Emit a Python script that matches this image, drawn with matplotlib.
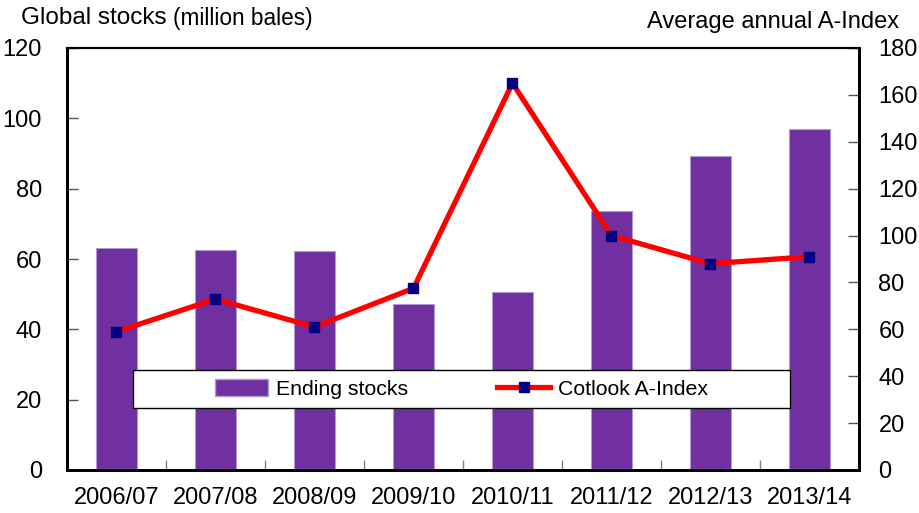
import matplotlib
matplotlib.use("Agg")
import matplotlib.pyplot as plt
from matplotlib.patches import Rectangle
from matplotlib.lines import Line2D
from matplotlib.patches import Patch
import numpy as np

plt.rcParams['font.family'] = ['Liberation Sans', 'DejaVu Sans']

seasons = ["2006/07", "2007/08", "2008/09", "2009/10", "2010/11", "2011/12", "2012/13", "2013/14"]
ending_stocks = [63.2, 62.5, 62.2, 47.3, 50.5, 73.6, 89.4, 97.0]
a_index = [59.0, 72.9, 61.0, 77.5, 165.0, 100.0, 88.0, 91.0]
left_ticks = [0, 20, 40, 60, 80, 100, 120]
right_ticks = [0, 20, 40, 60, 80, 100, 120, 140, 160, 180]

W, H = 920, 513
fig = plt.figure(figsize=(W / 100, H / 100), dpi=100)
L, R, B, T = 67, 859, 470, 48
ax = fig.add_axes([L / W, 1 - B / H, (R - L) / W, (B - T) / H])
ax2 = ax.twinx()

x = np.arange(len(seasons))
ax.bar(x, ending_stocks, width=0.42, color='#7030A0', edgecolor='#b09ad0', linewidth=0.8, zorder=2)
ax.set_xlim(-0.5, len(seasons) - 0.5)
ax.set_ylim(0, 120)
ax.set_yticks(left_ticks)
ax.set_xticks(x)
ax.set_xticklabels(seasons)
ax.set_xticks(np.arange(0.5, len(seasons) - 0.5, 1), minor=True)
ax.tick_params(axis='x', which='major', length=0, pad=12, labelsize=17)
ax.tick_params(axis='x', which='minor', length=7, direction='in', color='#808080', width=1)
ax.tick_params(axis='y', direction='in', length=8, color='#555555', width=1, labelsize=17, pad=18)

ax2.plot(x, a_index, color='#FF0000', linewidth=3.8, marker='s', markersize=7,
         markerfacecolor='#000080', markeredgecolor='#000080', zorder=3)
ax2.set_ylim(0, 180)
ax2.set_yticks(right_ticks)
ax2.tick_params(axis='y', direction='in', length=8, color='#555555', width=1, labelsize=17, pad=14)

for a in (ax, ax2):
    for s in ['left', 'right', 'bottom']:
        a.spines[s].set_linewidth(2.0)
    a.spines['top'].set_linewidth(1.5)
    for s in a.spines.values():
        s.set_color('black')

fig.text(21 / W, 1 - 18 / H, "Global stocks", fontsize=17.5, va='center', ha='left')
fig.text(173 / W, 1 - 18 / H, "(million bales)", fontsize=16.3, va='center', ha='left')
fig.text(899 / W, 1 - 22 / H, "Average annual A-Index", fontsize=17, va='center', ha='right')

# legend box
lx0, lx1, ly0, ly1 = 133, 790, 370, 408
rect = Rectangle((lx0 / W, 1 - ly1 / H), (lx1 - lx0) / W, (ly1 - ly0) / H,
                 transform=fig.transFigure, facecolor='white', edgecolor='black',
                 linewidth=1.0, zorder=5)
fig.add_artist(rect)
handles = [Patch(facecolor='#7030A0', edgecolor='#b09ad0'),
           Line2D([0], [0], color='#FF0000', linewidth=3.8, marker='s', markersize=7,
                  markerfacecolor='#000080', markeredgecolor='#000080')]
leg = fig.legend(handles, ["Ending stocks", "Cotlook A-Index"], loc='center',
                 bbox_to_anchor=((lx0 + lx1) / 2 / W, 1 - (ly0 + ly1) / 2 / H),
                 ncol=2, frameon=False, fontsize=15.3, handlelength=2.5, handleheight=0.8,
                 handletextpad=0.35, columnspacing=4.2)
leg.set_zorder(6)

fig.savefig("out.png", dpi=100)
